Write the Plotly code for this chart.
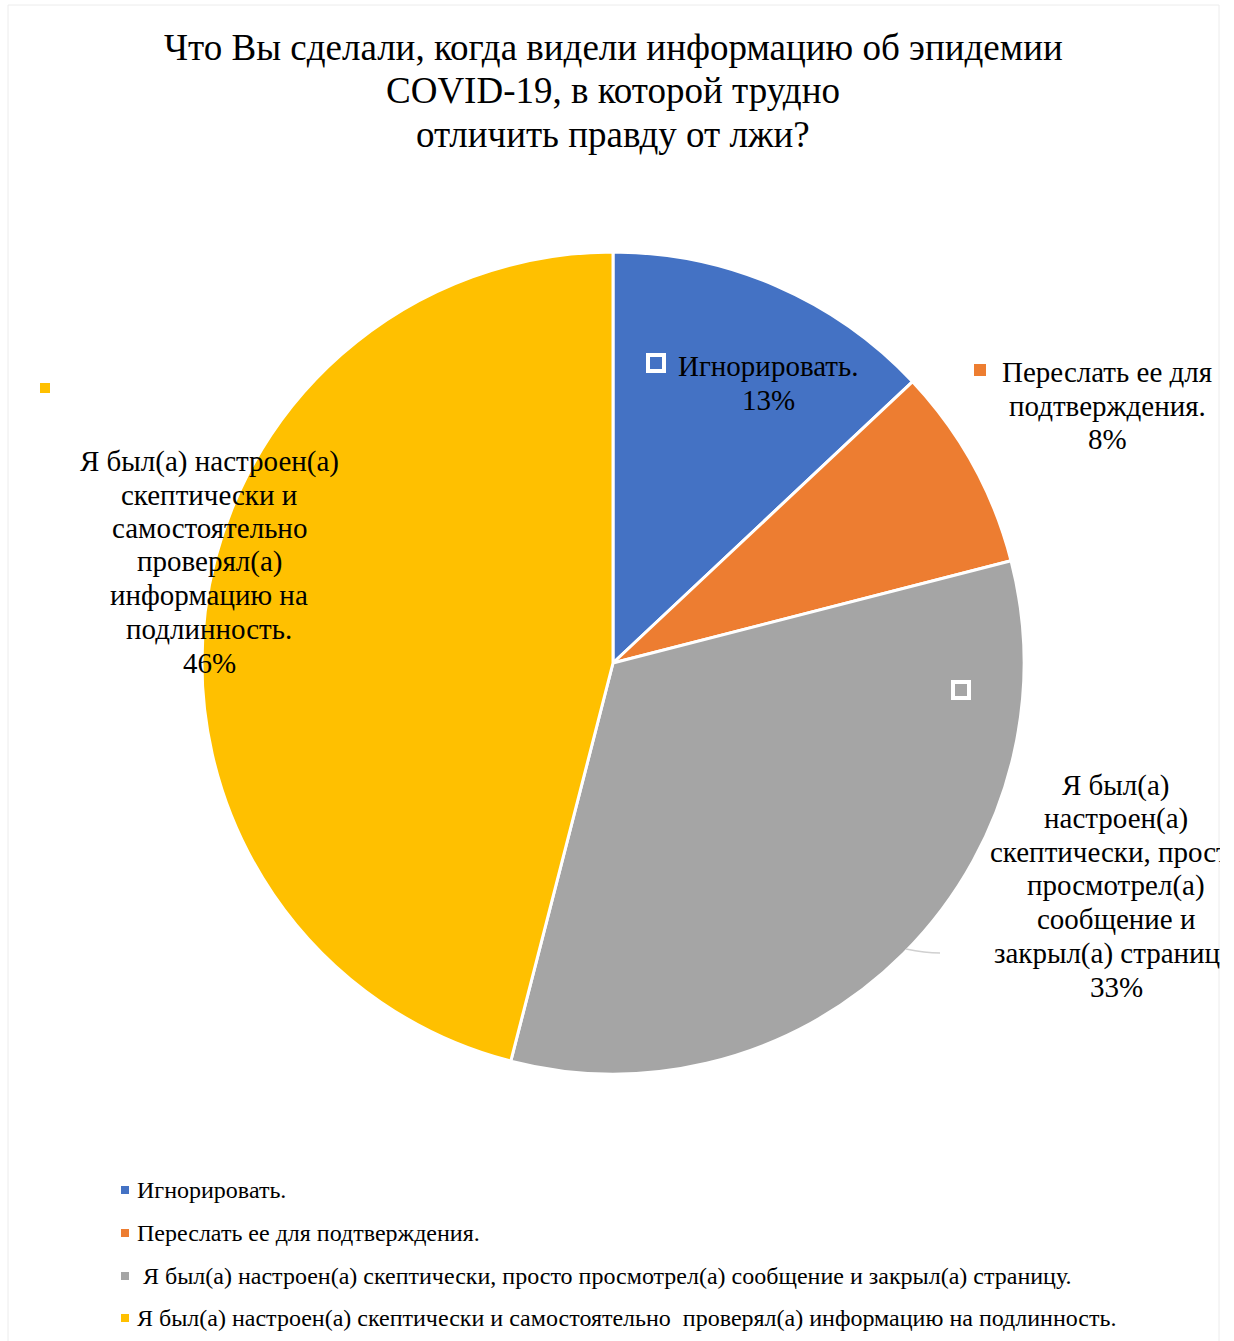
import plotly.graph_objects as go

# ---- data -------------------------------------------------------------
categories = [
    "Игнорировать.",
    "Переслать ее для подтверждения.",
    " Я был(а) настроен(а) скептически, просто просмотрел(а) сообщение и закрыл(а) страницу.",
    "Я был(а) настроен(а) скептически и самостоятельно  проверял(а) информацию на подлинность.",
]
shares = [13, 8, 33, 46]
colors = ["#4472C4", "#ED7D31", "#A5A5A5", "#FFC000"]

# wrapped versions of the category names used for the slice labels
slice_label_lines = [
    ["Игнорировать."],
    ["Переслать ее для", "подтверждения."],
    ["Я был(а)", "настроен(а)", "скептически, просто", "просмотрел(а)",
     "сообщение и", "закрыл(а) страницу."],
    ["Я был(а) настроен(а)", "скептически и", "самостоятельно", "проверял(а)",
     "информацию на", "подлинность."],
]

title_lines = [
    "Что Вы сделали, когда видели информацию об эпидемии",
    "COVID-19, в которой трудно",
    "отличить правду от лжи?",
]

# ---- layout helpers ---------------------------------------------------
W, H = 1220, 1341
FONT = "Liberation Serif, Times New Roman, serif"


def px(x):
    return x / W


def py(y):
    return 1 - y / H


cx, cy, r = 613, 663, 411

fig = go.Figure(
    go.Pie(
        labels=categories,
        values=shares,
        sort=False,
        direction="clockwise",
        rotation=0,
        marker=dict(colors=colors, line=dict(color="white", width=3)),
        textinfo="none",
        hoverinfo="label+percent",
        showlegend=False,
        domain=dict(x=[px(cx - r), px(cx + r)], y=[py(cy + r), py(cy - r)]),
    )
)

annotations = []
shapes = []


def add_lines(lines, x, y0, step, size, anchor="center"):
    """Place a block of text one line at a time with a fixed line pitch."""
    for i, line in enumerate(lines):
        annotations.append(dict(
            text=line, x=px(x), y=py(y0 + i * step), xref="paper", yref="paper",
            xanchor=anchor, yanchor="middle", showarrow=False, align=anchor,
            font=dict(family=FONT, size=size, color="#000000"),
        ))


# chart title
add_lines(title_lines, 613, 48, 43, 37)

# slice labels: (text centre x, first line y)
label_pos = [(768, 366), (1107, 372), (1116, 785), (209, 461)]
for lines, v, (lx, ly) in zip(slice_label_lines, shares, label_pos):
    add_lines(lines + [f"{v}%"], lx, ly, 33.6, 29)

# small key markers beside the slice labels
marker_spec = [
    (656, 363, 8, True),   # hollow (white outline) marker
    (980, 370, 6, False),
    (961, 690, 8, True),
    (45, 388, 5, False),
]
for (mx, my, h, hollow), c in zip(marker_spec, colors):
    shapes.append(dict(
        type="rect", xref="paper", yref="paper",
        x0=px(mx - h), x1=px(mx + h), y0=py(my + h), y1=py(my - h),
        fillcolor=c, line=dict(color="white" if hollow else c, width=4 if hollow else 0),
        layer="above",
    ))

# faint leader line of the grey slice label
shapes.append(dict(
    type="path", xref="paper", yref="paper",
    path=f"M {px(906)},{py(949)} Q {px(925)},{py(953)} {px(940)},{py(953)}",
    line=dict(color="#d0d0d0", width=1.5), layer="above",
))

# legend at the bottom
legend_y = [1190, 1233, 1276, 1318]
for name, c, ly in zip(categories, colors, legend_y):
    shapes.append(dict(
        type="rect", xref="paper", yref="paper",
        x0=px(121), x1=px(129), y0=py(ly + 4), y1=py(ly - 4),
        fillcolor=c, line=dict(width=0),
    ))
    annotations.append(dict(
        text=name.replace(" ", "\u00a0"),
        x=px(135), y=py(ly), xref="paper", yref="paper",
        xanchor="left", yanchor="middle", showarrow=False, align="left",
        font=dict(family=FONT, size=24, color="#000000"),
    ))

# outer frame of the chart area
shapes.append(dict(
    type="rect", xref="paper", yref="paper",
    x0=px(8), x1=px(1219), y0=py(1345), y1=py(5),
    line=dict(color="#ececec", width=1), fillcolor="rgba(0,0,0,0)",
))

fig.update_layout(
    width=W, height=H,
    margin=dict(l=0, r=0, t=0, b=0),
    paper_bgcolor="white", plot_bgcolor="white",
    annotations=annotations, shapes=shapes,
    showlegend=False,
)

fig.write_html("out.html")
